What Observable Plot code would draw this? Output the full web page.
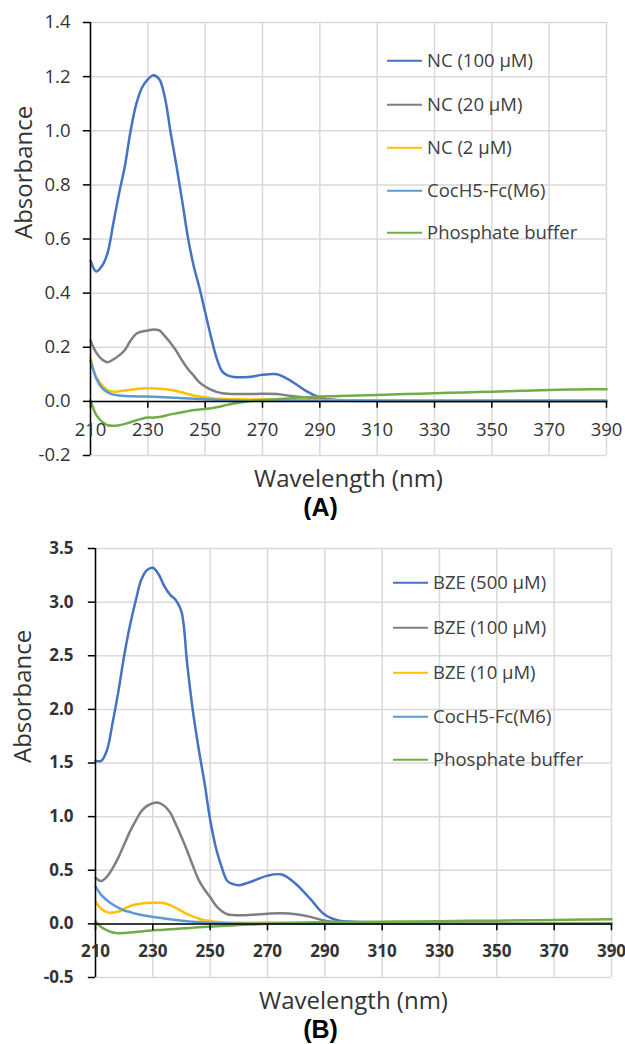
<!DOCTYPE html>
<html>
<head>
<meta charset="utf-8">
<script src="https://cdn.jsdelivr.net/npm/d3@7"></script>
<script src="https://cdn.jsdelivr.net/npm/@observablehq/plot@0.6"></script>
<style>
  body { margin: 0; background: #fff; font-family: "Open Sans", sans-serif; }
  .panel { position: relative; width: 625px; }
  .panel svg { display: block; }
  .leg { position: absolute; height: 0; }
  .leg .sw { position: absolute; width: 35px; height: 0; border-top: 2.5px solid; transform: translateY(-1.25px); }
  .leg .lb { position: absolute; white-space: nowrap; font-size: 18.5px; color: #404040; line-height: 1; transform: translateY(-55%); }
</style>
</head>
<body>
<div id="pa" class="panel"></div>
<div id="pb" class="panel"></div>
<script>
// ---------- data ----------
const wavelengths = [210,212,214,216,218,220,222,224,226,228,230,232,234,236,238,240,242,244,246,248,250,252,254,256,258,260,265,270,275,280,285,290,295,300,310,320,330,340,350,360,370,380,390];
const xTicks = [210,230,250,270,290,310,330,350,370,390];
const yTicksA = [-0.2,0,0.2,0.4,0.6,0.8,1.0,1.2,1.4];
const yTicksB = [-0.5,0,0.5,1.0,1.5,2.0,2.5,3.0,3.5];
const seriesColors = ["#4472C4","#7F7F7F","#FFC000","#5B9BD5","#70AD47"];
const namesA = ["NC (100 µM)","NC (20 µM)","NC (2 µM)","CocH5-Fc(M6)","Phosphate buffer"];
const namesB = ["BZE (500 µM)","BZE (100 µM)","BZE (10 µM)","CocH5-Fc(M6)","Phosphate buffer"];

// Panel A
const nc100 = [0.52,0.48,0.50,0.55,0.66,0.77,0.87,1.00,1.10,1.16,1.19,1.205,1.19,1.12,0.99,0.87,0.74,0.605,0.50,0.42,0.33,0.24,0.16,0.11,0.095,0.09,0.09,0.098,0.10,0.075,0.04,0.015,0.005,0.002,0.001,0.001,0.001,0.001,0.001,0.001,0.001,0.001,0.001];
const nc20 = [0.225,0.18,0.155,0.145,0.155,0.17,0.19,0.225,0.25,0.258,0.262,0.266,0.262,0.24,0.215,0.185,0.15,0.12,0.095,0.07,0.055,0.043,0.035,0.03,0.028,0.027,0.027,0.028,0.027,0.02,0.015,0.01,0.006,0.004,0.002,0.001,0.001,0.001,0.001,0.001,0.001,0.001,0.001];
const nc2 = [0.16,0.09,0.06,0.042,0.036,0.037,0.04,0.043,0.046,0.048,0.048,0.048,0.047,0.045,0.042,0.038,0.033,0.027,0.022,0.018,0.015,0.012,0.01,0.009,0.008,0.008,0.007,0.007,0.006,0.006,0.005,0.005,0.004,0.003,0.002,0.001,0.001,0.001,0.001,0.001,0.001,0.001,0.001];
const cochA = [0.15,0.085,0.05,0.033,0.025,0.022,0.02,0.019,0.018,0.018,0.018,0.017,0.016,0.015,0.014,0.013,0.012,0.011,0.01,0.009,0.008,0.007,0.006,0.005,0.004,0.003,0.002,0.002,0.002,0.002,0.002,0.002,0.002,0.002,0.002,0.002,0.002,0.002,0.002,0.002,0.002,0.002,0.002];
const bufferA = [0.005,-0.05,-0.075,-0.088,-0.09,-0.088,-0.083,-0.077,-0.07,-0.064,-0.06,-0.06,-0.058,-0.053,-0.048,-0.044,-0.04,-0.036,-0.032,-0.03,-0.028,-0.025,-0.022,-0.017,-0.012,-0.008,0.0,0.005,0.008,0.012,0.015,0.018,0.019,0.021,0.024,0.027,0.03,0.033,0.036,0.039,0.042,0.044,0.045];

// Panel B
const bze500 = [1.52,1.52,1.62,1.88,2.17,2.50,2.78,3.01,3.21,3.30,3.32,3.26,3.15,3.07,3.02,2.91,2.42,1.98,1.63,1.32,0.97,0.71,0.53,0.40,0.37,0.36,0.40,0.45,0.46,0.37,0.23,0.085,0.03,0.02,0.012,0.01,0.008,0.007,0.006,0.005,0.005,0.005,0.005];
const bze100 = [0.43,0.40,0.44,0.52,0.62,0.74,0.86,0.96,1.05,1.10,1.125,1.13,1.10,1.04,0.93,0.81,0.68,0.54,0.41,0.32,0.25,0.17,0.12,0.09,0.082,0.08,0.085,0.095,0.10,0.09,0.065,0.03,0.015,0.01,0.007,0.006,0.005,0.005,0.005,0.005,0.005,0.005,0.005];
const bze10 = [0.21,0.14,0.11,0.105,0.115,0.14,0.165,0.18,0.19,0.195,0.197,0.197,0.193,0.175,0.15,0.12,0.09,0.068,0.05,0.035,0.027,0.02,0.016,0.013,0.011,0.01,0.01,0.012,0.013,0.012,0.01,0.008,0.006,0.005,0.004,0.004,0.004,0.004,0.004,0.004,0.004,0.004,0.004];
const cochB = [0.35,0.27,0.22,0.18,0.15,0.125,0.11,0.095,0.083,0.073,0.065,0.058,0.05,0.043,0.036,0.03,0.025,0.02,0.017,0.013,0.01,0.008,0.006,0.005,0.004,0.003,0.002,0.002,0.002,0.002,0.002,0.002,0.002,0.002,0.002,0.002,0.002,0.002,0.002,0.002,0.002,0.002,0.002];
const bufferB = [0.02,-0.03,-0.06,-0.08,-0.088,-0.085,-0.08,-0.075,-0.07,-0.065,-0.06,-0.057,-0.054,-0.05,-0.047,-0.044,-0.04,-0.036,-0.032,-0.029,-0.026,-0.023,-0.02,-0.017,-0.014,-0.011,-0.005,0.0,0.005,0.009,0.012,0.015,0.017,0.018,0.02,0.023,0.025,0.028,0.03,0.033,0.036,0.04,0.043];

// ---------- drawing ----------
function makePanel(el, cfg) {
  const series = cfg.values.map((vals, i) =>
    vals.map((v, j) => ({wl: wavelengths[j], a: v, s: cfg.names[i]})));
  const yMin = d3.min(cfg.yTicks), yMax = d3.max(cfg.yTicks);
  const tickLen = (yMax - yMin) * 0.016;
  const weight = cfg.bold ? "bold" : "normal";
  const fmt = d => d.toFixed(1);
  const svg = Plot.plot({
    width: 625, height: cfg.height,
    marginLeft: cfg.ml, marginRight: cfg.mr, marginTop: cfg.mt, marginBottom: cfg.mb,
    style: {fontFamily: "Open Sans", fontSize: "18.5px", color: "#333", background: "#fff"},
    x: {domain: [xTicks[0], xTicks[xTicks.length - 1]], axis: null},
    y: {domain: [yMin, yMax], axis: null},
    marks: [
      Plot.gridX(xTicks, {stroke: "#d9d9d9", strokeOpacity: 1, strokeWidth: 1.5}),
      Plot.gridY(cfg.yTicks, {stroke: "#d9d9d9", strokeOpacity: 1, strokeWidth: 1.5}),
      ...series.map((d, i) => Plot.line(d, {x: "wl", y: "a", stroke: seriesColors[i], strokeWidth: 2.5, curve: "catmull-rom"})),
      Plot.ruleX([xTicks[0]], {stroke: "#000", strokeWidth: 1.5}),
      Plot.ruleY([0], {stroke: "#000", strokeWidth: 1.5}),
      Plot.ruleX(xTicks, {x: d => d, y1: 0, y2: -tickLen, stroke: "#000", strokeWidth: 1.5}),
      Plot.ruleY(cfg.yTicks, {y: d => d, x1: xTicks[0], x2: xTicks[0] - 2.5, stroke: "#000", strokeWidth: 1.5}),
      Plot.text(cfg.yTicks, {y: d => d, frameAnchor: "left", dx: -cfg.ylabPad, textAnchor: "end", text: fmt, fontWeight: weight, fontSize: cfg.tickFont, fill: "#333"}),
      Plot.text(xTicks, {x: d => d, y: 0, dy: cfg.xlabDy, lineAnchor: "middle", text: d => String(d), fontWeight: weight, fontSize: cfg.tickFont, fill: "#333"}),
      Plot.text([cfg.xTitle], {frameAnchor: "bottom", dy: 24, lineAnchor: "middle", text: d => d, fontSize: 24, fill: "#333"}),
      Plot.text([cfg.panelLabel], {frameAnchor: "bottom", dx: cfg.panelDx, dy: 52, lineAnchor: "middle", text: d => d, fontSize: 25, fontWeight: "bold", fontFamily: "Liberation Sans", fill: "#000"}),
      Plot.text([cfg.yTitle], {frameAnchor: "left", dx: cfg.yTitleDx, rotate: -90, lineAnchor: "middle", text: d => d, fontSize: 24, fill: "#333"})
    ]
  });
  el.appendChild(svg);
  const leg = document.createElement("div");
  leg.className = "leg";
  leg.style.left = cfg.legLeft + "px";
  leg.style.top = "0px";
  cfg.names.forEach((name, i) => {
    const sw = document.createElement("div");
    sw.className = "sw";
    sw.style.left = "0px";
    sw.style.top = cfg.legRows[i] + "px";
    sw.style.borderTopColor = seriesColors[i];
    const lb = document.createElement("div");
    lb.className = "lb";
    lb.style.left = "40px";
    lb.style.top = cfg.legRows[i] + "px";
    lb.textContent = name;
    leg.appendChild(sw);
    leg.appendChild(lb);
  });
  el.appendChild(leg);
}

makePanel(document.getElementById("pa"), {
  values: [nc100, nc20, nc2, cochA, bufferA], names: namesA, yTicks: yTicksA,
  height: 520, ml: 90, mr: 19, mt: 22, mb: 65, bold: false, tickFont: 18.5,
  ylabPad: 20, xlabDy: 29, panelDx: -28, yTitleDx: -66,
  xTitle: "Wavelength (nm)", yTitle: "Absorbance", panelLabel: "(A)",
  legLeft: 387, legRows: [61, 105, 148, 191, 233]
});
makePanel(document.getElementById("pb"), {
  values: [bze500, bze100, bze10, cochB, bufferB], names: namesB, yTicks: yTicksB,
  height: 524, ml: 95, mr: 14, mt: 28, mb: 67, bold: true, tickFont: 17,
  ylabPad: 22, xlabDy: 28, panelDx: -33, yTitleDx: -72,
  xTitle: "Wavelength (nm)", yTitle: "Absorbance", panelLabel: "(B)",
  legLeft: 393, legRows: [63, 108, 153, 197, 240]
});
</script>
</body>
</html>
